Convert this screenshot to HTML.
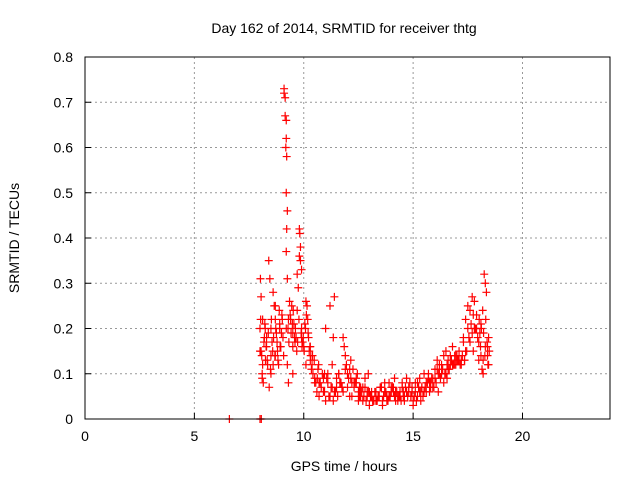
<!DOCTYPE html>
<html><head><meta charset="utf-8"><style>
body{margin:0;background:#fff}
svg text{font-family:"Liberation Sans",sans-serif;font-size:14px;fill:#000}
</style></head><body>
<svg id="c" width="640" height="480">
<text x="344" y="33" text-anchor="middle">Day 162 of 2014, SRMTID for receiver thtg</text>
<text x="344" y="471" text-anchor="middle">GPS time / hours</text>
<text transform="translate(19,238) rotate(-90)" text-anchor="middle">SRMTID / TECUs</text>
<g id="grid"></g><g id="ticks"></g><g id="pts"></g>
<rect x="85" y="57" width="525" height="362" fill="none" stroke="#000" stroke-width="1"/>
</svg>
<script>
const xTicks=[0,5,10,15,20];
const yTicks=[0,0.1,0.2,0.3,0.4,0.5,0.6,0.7,0.8];
const yTickLabels=["0","0.1","0.2","0.3","0.4","0.5","0.6","0.7","0.8"];
const hours=[6.6,8.0,8.02,8.05,8.0,8.05,8.1,8.12,8.15,8.2,8.22,8.25,8.3,8.35,8.4,8.45,8.5,8.5,8.55,8.6,8.6,8.65,8.7,8.7,8.75,8.8,8.85,8.9,8.95,9.0,9.05,9.1,9.1,9.15,9.15,9.2,9.2,9.18,9.22,9.2,9.25,9.22,9.2,9.25,9.2,9.25,9.3,9.35,9.4,9.45,9.5,9.5,9.55,9.6,9.65,9.7,9.75,9.8,9.82,9.85,9.8,9.85,9.9,9.9,9.95,10.0,10.05,10.1,10.15,10.2,10.25,10.3,10.35,10.4,10.5,10.55,10.6,10.65,10.7,10.8,10.9,11.0,11.1,11.2,11.3,11.4,11.5,11.6,11.7,11.8,11.9,11.95,12.0,12.05,12.1,12.2,12.3,12.4,12.5,12.6,12.7,12.8,12.9,13.0,13.1,13.2,13.3,13.4,13.5,13.6,13.7,13.8,13.9,14.0,14.1,14.2,14.3,14.4,14.5,14.6,14.7,14.8,14.9,15.0,15.1,15.2,15.3,15.4,15.5,15.6,15.7,15.8,15.9,16.0,16.1,16.2,16.3,16.4,16.5,16.6,16.7,16.8,16.9,17.0,17.1,17.2,17.3,17.4,17.5,17.6,17.7,17.8,17.9,18.0,18.05,18.1,18.15,18.2,18.25,18.3,18.35,18.4,18.45,10.9,11.0,11.2,11.4,11.6,11.8,12.0,12.2,12.4,12.6,12.8,13.0,13.2,13.4,13.6,13.8,14.0,14.2,14.4,14.6,14.8,15.0,15.2,15.4,15.6,15.8,16.0,16.2,16.4,16.6,16.8,17.0,17.2,17.4,17.6,17.8,18.0,18.2,18.4,8.1,8.3,8.5,8.7,8.9,9.3,9.5,9.7,9.9,10.1,10.3,10.5,10.7,11.1,11.3,11.5,11.7,11.9,12.1,12.3,12.5,12.7,12.9,13.1,13.3,13.5,13.7,13.9,14.1,14.3,14.5,14.7,14.9,15.1,15.3,15.5,15.7,15.9,16.1,16.3,16.5,16.7,16.9,17.1,17.3,17.5,17.7,17.9,18.1,18.3,18.45,
8.0,8.03,8.06,8.08,8.12,8.18,8.24,8.28,8.33,8.38,8.42,8.48,8.52,8.58,8.62,8.68,8.72,8.78,8.82,8.88,8.92,8.98,9.02,9.08,9.28,9.32,9.38,9.42,9.48,9.52,9.58,9.62,9.68,9.72,9.78,9.88,9.92,9.98,10.02,10.08,10.12,10.18,10.22,10.28,10.32,10.38,10.42,10.48,10.62,10.68,10.75,10.85,10.95,11.05,11.15,11.25,11.35,11.45,11.55,11.65,11.75,11.85,12.15,12.25,12.35,12.45,12.55,12.65,12.75,12.85,12.95,13.05,13.15,13.25,13.35,13.45,13.55,13.65,13.75,13.85,13.95,14.05,14.15,14.25,14.35,14.45,14.55,14.65,14.75,14.85,14.95,15.05,15.15,15.25,15.35,15.45,15.55,15.65,15.75,15.85,15.95,16.05,16.15,16.25,16.35,16.45,16.55,16.65,16.75,16.85,16.95,17.05,17.15,17.25,17.35,17.45,17.55,17.65,17.75,17.85,17.95,18.02,18.08,18.12,18.18,18.22,18.28,18.32,18.38,18.42,18.48,10.95,11.35,11.75,12.15,12.55,12.95,13.35,13.75,14.15,14.55,14.95,15.35,15.75,16.15,16.55,16.95,17.35,17.75];
const srmtid=[0.0,0.0,0.31,0.27,0.2,0.15,0.1,0.22,0.08,0.18,0.21,0.13,0.16,0.12,0.35,0.31,0.2,0.1,0.17,0.12,0.28,0.25,0.22,0.14,0.19,0.15,0.12,0.21,0.16,0.23,0.18,0.73,0.72,0.71,0.67,0.66,0.62,0.6,0.58,0.5,0.46,0.42,0.37,0.31,0.2,0.12,0.08,0.26,0.22,0.25,0.19,0.16,0.21,0.17,0.18,0.32,0.29,0.42,0.41,0.38,0.36,0.35,0.33,0.2,0.17,0.16,0.21,0.26,0.25,0.19,0.15,0.13,0.11,0.14,0.09,0.08,0.06,0.11,0.05,0.07,0.06,0.04,0.08,0.05,0.07,0.06,0.09,0.1,0.08,0.18,0.14,0.12,0.1,0.09,0.11,0.08,0.07,0.09,0.06,0.05,0.04,0.07,0.06,0.03,0.05,0.04,0.06,0.05,0.07,0.04,0.06,0.05,0.08,0.06,0.07,0.04,0.05,0.06,0.08,0.05,0.06,0.07,0.05,0.04,0.06,0.08,0.09,0.07,0.06,0.08,0.1,0.07,0.09,0.11,0.13,0.12,0.1,0.14,0.15,0.13,0.12,0.16,0.14,0.13,0.15,0.12,0.18,0.22,0.25,0.24,0.27,0.26,0.2,0.17,0.19,0.14,0.11,0.13,0.32,0.3,0.28,0.16,0.12,0.09,0.2,0.25,0.27,0.1,0.06,0.07,0.05,0.08,0.07,0.09,0.06,0.04,0.05,0.03,0.04,0.07,0.06,0.05,0.04,0.06,0.03,0.05,0.07,0.06,0.08,0.09,0.1,0.08,0.11,0.12,0.14,0.13,0.15,0.17,0.2,0.13,0.1,0.14,0.09,0.18,0.14,0.25,0.2,0.22,0.1,0.24,0.18,0.12,0.16,0.08,0.08,0.1,0.12,0.07,0.08,0.11,0.05,0.08,0.04,0.07,0.05,0.06,0.04,0.07,0.08,0.05,0.06,0.04,0.07,0.09,0.05,0.08,0.06,0.1,0.09,0.07,0.11,0.12,0.1,0.14,0.12,0.13,0.17,0.2,0.19,0.23,0.21,0.16,0.18,0.15,0.22,
0.0,0.14,0.12,0.17,0.2,0.16,0.13,0.19,0.07,0.11,0.22,0.15,0.18,0.14,0.2,0.17,0.13,0.24,0.16,0.19,0.22,0.14,0.2,0.17,0.23,0.19,0.21,0.24,0.18,0.2,0.15,0.17,0.22,0.19,0.16,0.18,0.15,0.2,0.23,0.22,0.18,0.16,0.14,0.12,0.1,0.13,0.09,0.12,0.08,0.1,0.06,0.09,0.05,0.07,0.04,0.06,0.05,0.08,0.07,0.16,0.13,0.11,0.08,0.1,0.07,0.06,0.05,0.04,0.06,0.05,0.04,0.06,0.04,0.05,0.07,0.05,0.06,0.04,0.05,0.07,0.05,0.06,0.05,0.04,0.06,0.07,0.05,0.08,0.06,0.05,0.04,0.07,0.06,0.05,0.07,0.08,0.06,0.09,0.07,0.08,0.1,0.09,0.11,0.1,0.12,0.11,0.13,0.12,0.14,0.13,0.12,0.14,0.13,0.15,0.18,0.21,0.23,0.2,0.18,0.22,0.16,0.2,0.24,0.19,0.14,0.22,0.17,0.12,0.15,0.1,0.18,0.07,0.09,0.05,0.1,0.04,0.06,0.09,0.05,0.07,0.04,0.08,0.06,0.09,0.12,0.13,0.15,0.19];
const X0=85,X1=610,Y0=419,Y1=57;
const xs=v=>X0+(v/24)*(X1-X0);
const ys=v=>Y0-(v/0.8)*(Y0-Y1);
const NS="http://www.w3.org/2000/svg";
const grid=document.getElementById('grid'),ticks=document.getElementById('ticks'),pts=document.getElementById('pts');
function mk(t,a,p){const e=document.createElementNS(NS,t);for(const k in a)e.setAttribute(k,a[k]);p.appendChild(e);return e;}
xTicks.forEach(v=>{const x=xs(v);
 if(v>0){const g=mk('line',{x1:x,x2:x,y1:Y1,y2:Y0,stroke:'#999','stroke-dasharray':'2,3'},grid);
 
 }
 const t=mk('line',{x1:x,x2:x,y1:Y0,y2:Y0-6,stroke:'#000'},ticks);
 
 
 const l=mk('text',{x:x,y:Y0+22,'text-anchor':'middle'},ticks);l.textContent=v;
 
 
});
yTicks.forEach((v,i)=>{const y=ys(v);
 if(i>0&&i<yTicks.length-1){const g=mk('line',{x1:X0,x2:X1,y1:y,y2:y,stroke:'#999','stroke-dasharray':'2,3'},grid);
 
 }
 const t=mk('line',{x1:X0,x2:X0+6,y1:y,y2:y,stroke:'#000'},ticks);
 
 
 const l=mk('text',{x:X0-12,y:y+5,'text-anchor':'end'},ticks);l.textContent=yTickLabels[i];
 
 
});
hours.forEach((h,i)=>{const x=xs(h),y=ys(srmtid[i]);
 const p=mk('path',{d:`M${x-4} ${y}H${x+4}M${x} ${y-4}V${y+4}`,stroke:'#f00','stroke-width':1.2},pts);
 
 
});
</script>
</body></html>
